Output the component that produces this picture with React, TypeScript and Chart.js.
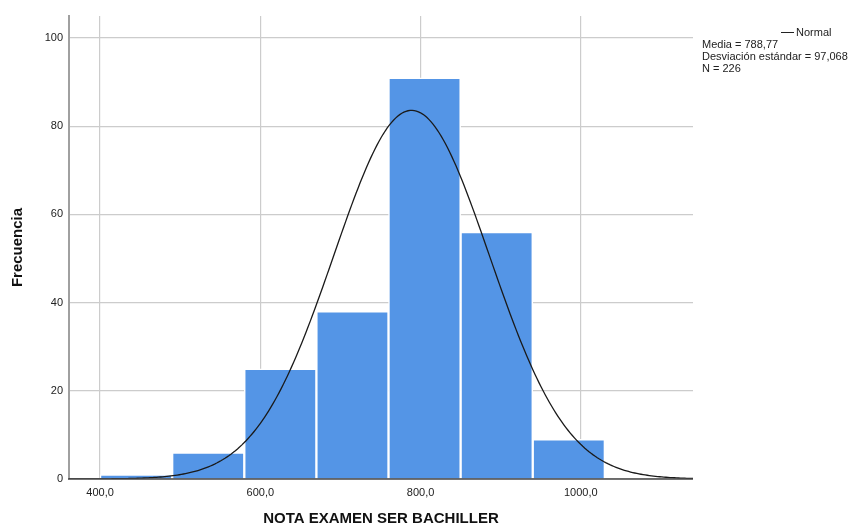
import React, { useEffect, useRef } from "react";
import { Chart, registerables } from "chart.js";

Chart.register(...registerables);

// ---- Data ----
const binStarts = [400, 490, 580, 670, 760, 850, 940];
const binWidth = 90;
const frequencies = [1, 6, 25, 38, 91, 56, 9];
const xTickValues = [400, 600, 800, 1000];
const yTickValues = [0, 20, 40, 60, 80, 100];
const normalMean = 788.77;
const normalSd = 97.068;
const normalN = 226;
const xRange = [361.25, 1140];
const yRange = [0, 105];
const statLines = ["Media = 788,77", "Desviación estándar = 97,068", "N = 226"];

function normalCurve() {
  const pts: { x: number; y: number }[] = [];
  const k = (normalN * binWidth) / (normalSd * Math.sqrt(2 * Math.PI));
  const steps = 300;
  for (let i = 0; i <= steps; i++) {
    const x = xRange[0] + ((xRange[1] - xRange[0]) * i) / steps;
    const z = (x - normalMean) / normalSd;
    pts.push({ x, y: k * Math.exp(-0.5 * z * z) });
  }
  return pts;
}

const FONT = "'Liberation Sans', Arial, sans-serif";

export default function App() {
  const ref = useRef<HTMLCanvasElement | null>(null);
  useEffect(() => {
    document.body.style.margin = "0";
    const ctx = ref.current!.getContext("2d")!;
    const bottomAxis = {
      id: "bottomAxis",
      afterDatasetsDraw(chart: any) {
        const { ctx, chartArea } = chart;
        ctx.save();
        ctx.strokeStyle = "#4a4a4a";
        ctx.lineWidth = 1.5;
        ctx.beginPath();
        ctx.moveTo(chartArea.left - 1, chartArea.bottom);
        ctx.lineTo(chartArea.right, chartArea.bottom);
        ctx.stroke();
        ctx.restore();
      },
    };
    const chart = new Chart(ctx, {
      type: "bar",
      data: {
        datasets: [
          {
            type: "line",
            label: "Normal",
            data: normalCurve(),
            borderColor: "#1a1a1a",
            borderWidth: 1.3,
            pointRadius: 0,
            fill: false,
            tension: 0,
            order: 0,
          } as any,
          {
            type: "bar",
            label: "Frecuencia",
            data: binStarts.map((s, i) => ({ x: s + binWidth / 2, y: frequencies[i] })),
            backgroundColor: "#5495e6",
            borderColor: "#ffffff",
            borderWidth: 1.5,
            barPercentage: 1,
            categoryPercentage: 1,
            order: 1,
          } as any,
        ],
      },
      options: {
        responsive: false,
        animation: false,
        layout: { padding: { top: 16, right: 168, left: 0, bottom: 0 } },
        plugins: { legend: { display: false }, tooltip: { enabled: false } },
        scales: {
          x: {
            type: "linear",
            min: xRange[0],
            max: xRange[1],
            offset: false,
            afterBuildTicks: (s: any) => {
              s.ticks = xTickValues.map((v) => ({ value: v }));
            },
            afterFit: (s: any) => {
              s.height = 49;
            },
            grid: { color: "#cccccc", lineWidth: 1.2, drawTicks: false, offset: false },
            border: { display: false },
            ticks: {
              padding: 7,
              color: "#222",
              font: { family: FONT, size: 11 },
              maxRotation: 0,
              callback: (v: any) => Number(v).toFixed(1).replace(".", ","),
            },
            title: {
              display: true,
              text: "NOTA EXAMEN SER BACHILLER",
              color: "#111",
              font: { family: FONT, size: 15, weight: "bold" },
              padding: { top: 0, bottom: 0 },
            },
          },
          y: {
            type: "linear",
            min: yRange[0],
            max: yRange[1],
            afterBuildTicks: (s: any) => {
              s.ticks = yTickValues.map((v) => ({ value: v }));
            },
            afterFit: (s: any) => {
              s.width = 69;
            },
            grid: { color: "#cccccc", lineWidth: 1.2, drawTicks: false },
            border: { display: true, color: "#a0a0a0", width: 2 },
            ticks: {
              padding: 6,
              color: "#222",
              font: { family: FONT, size: 11 },
            },
            title: {
              display: true,
              text: "Frecuencia",
              color: "#111",
              font: { family: FONT, size: 15, weight: "bold" },
              padding: { top: 9, bottom: 0 },
            },
          },
        },
      },
      plugins: [bottomAxis],
    } as any);
    return () => chart.destroy();
  }, []);

  return (
    <div style={{ position: "absolute", left: 0, top: 0, width: 861, height: 528, background: "#fff" }}>
      <canvas ref={ref} width={861} height={528} style={{ display: "block" }} />
      <div
        style={{
          position: "absolute",
          left: 781,
          top: 32,
          width: 13,
          height: 0,
          borderTop: "1px solid #222",
        }}
      />
      <div
        style={{
          position: "absolute",
          left: 796,
          top: 26,
          fontFamily: FONT,
          fontSize: 11,
          lineHeight: "12px",
          color: "#222",
          whiteSpace: "nowrap",
        }}
      >
        Normal
      </div>
      <div
        style={{
          position: "absolute",
          left: 702,
          top: 38,
          fontFamily: FONT,
          fontSize: 11,
          lineHeight: "12px",
          color: "#222",
          whiteSpace: "nowrap",
        }}
      >
        {statLines.map((t) => (
          <div key={t}>{t}</div>
        ))}
      </div>
    </div>
  );
}
